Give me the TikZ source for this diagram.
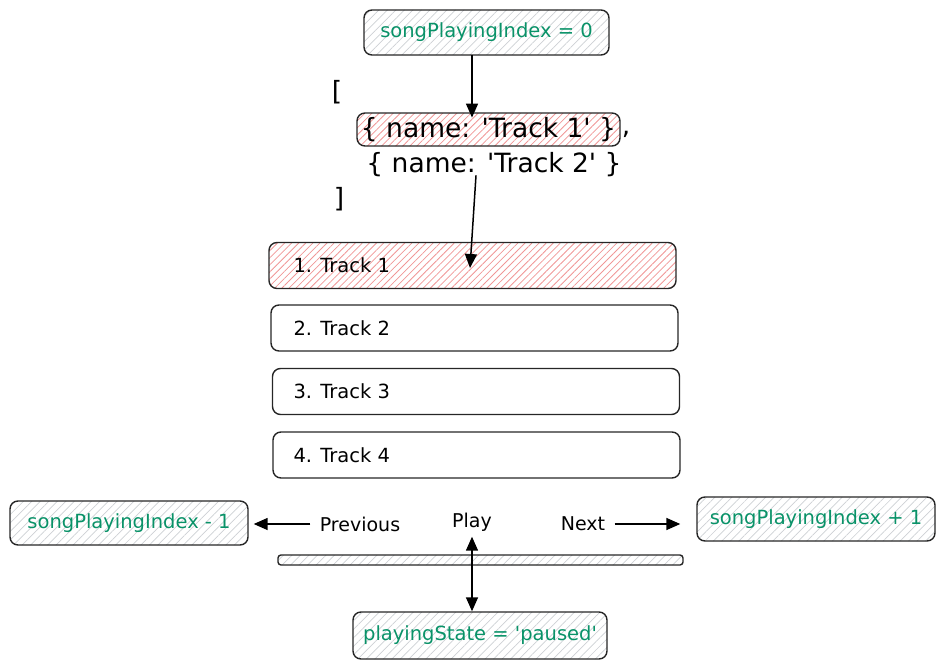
\documentclass[tikz,border=0pt]{standalone}
\usepackage{fontspec}
\setmainfont{DejaVu Sans}
\usetikzlibrary{arrows.meta,patterns.meta}
\definecolor{codegreen}{RGB}{9,146,104}
\definecolor{hatchgray}{RGB}{205,208,212}
\definecolor{hatchred}{RGB}{240,150,150}
\newcommand{\q}{\textquotesingle}
\tikzset{
  card/.style={draw=black!85, line width=1.4pt, rounded corners=8pt, inner sep=0pt},
  graybox/.style={card, pattern={Lines[angle=45,distance=6pt,line width=0.7pt]}, pattern color=hatchgray,
    font=\fontsize{19.5}{22}\selectfont, text=codegreen},
  redbox/.style={card, pattern={Lines[angle=45,distance=5pt,line width=0.8pt]}, pattern color=hatchred},
  trackbox/.style={card, minimum width=407pt, minimum height=46pt},
  tracktext/.style={anchor=west, font=\fontsize{19.5}{22}\selectfont},
  codetext/.style={font=\fontsize{26.5}{30}\selectfont, inner sep=0pt},
  label/.style={font=\fontsize{19}{22}\selectfont},
  arr/.style={line width=1.5pt, -{Triangle[length=14pt,width=12pt]}},
  arrboth/.style={line width=1.5pt, {Triangle[length=14pt,width=12pt]}-{Triangle[length=14pt,width=12pt]}},
}
\begin{document}
\begin{tikzpicture}[x=1pt,y=-1pt]
\useasboundingbox (0,0) rectangle (945,669);

% state at the top
\node[graybox, minimum width=245pt, minimum height=45pt] (index) at (486.5,32.5) {songPlayingIndex = 0};

% the array
\node[codetext] (open) at (337,92) {[};
\node[redbox, minimum width=263pt, minimum height=33pt] (code1) at (488.5,129.5) {};
\node[codetext] at (code1) {\{ name: \q Track 1\q{} \}};
\node[codetext] (comma) at (626,134) {,};
\node[codetext] (code2) at (494,165) {\{ name: \q Track 2\q{} \}};
\node[codetext] (close) at (339,199) {]};

% the list
\node[trackbox, redbox] (track1) at (472.5,265.5) {};
\node[trackbox] (track2) at (474.5,328) {};
\node[trackbox] (track3) at (476,391.5) {};
\node[trackbox] (track4) at (476.5,455) {};
\foreach \i/\y in {1/265,2/328,3/391,4/455}
  \node[tracktext] (label\i) at (290,\y) {\i. Track \i};

% controls
\node[label] (prev) at (360,524) {Previous};
\node[label] (play) at (472,522) {Play};
\node[label] (next) at (583,524) {Next};
\node[card, fill=white, pattern={Lines[angle=45,distance=6pt,line width=0.7pt]}, pattern color=hatchgray,
  minimum width=405pt, minimum height=10pt, rounded corners=3pt] (bar) at (480.5,560) {};

\node[graybox, minimum width=238pt, minimum height=44pt] (minus) at (129,523) {songPlayingIndex - 1};
\node[graybox, minimum width=238pt, minimum height=44pt] (plus) at (816,519) {songPlayingIndex + 1};
\node[graybox, minimum width=254pt, minimum height=47pt] (state) at (480,635.5) {playingState = \q paused\q};

\coordinate (hit) at (470,268);
\draw[arr] (index.south -| play) -- ([yshift=-5pt]code1.north -| play);
\draw[arr] ([xshift=-18pt,yshift=2pt]code2.south) -- (hit);
\draw[arr] ([xshift=-6pt]prev.west) -- ([xshift=5pt]prev.west -| minus.east);
\draw[arr] ([xshift=6pt]next.east) -- ([xshift=-16pt]next.east -| plus.west);
\draw[arrboth] ([yshift=-2pt]play.south) -- (play.south |- state.north);
\end{tikzpicture}
\end{document}
